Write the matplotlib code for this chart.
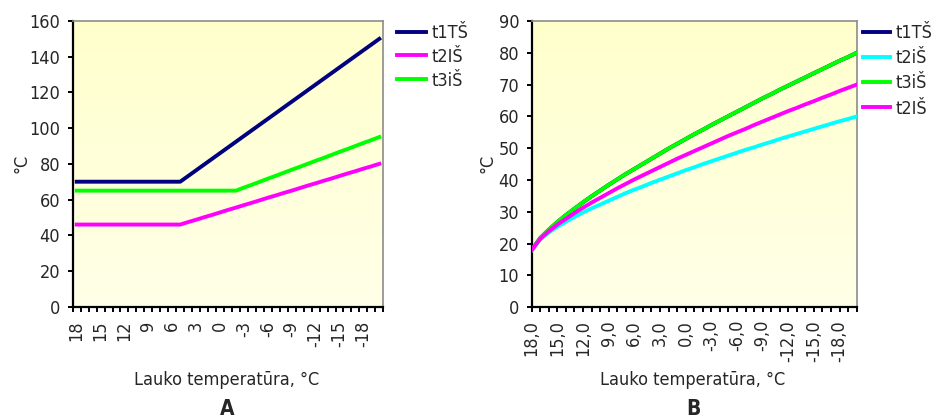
import numpy as np
import matplotlib
matplotlib.use("Agg")
import matplotlib.pyplot as plt
from matplotlib.colors import LinearSegmentedColormap

plt.rcParams['font.family'] = ['DejaVu Sans']
plt.rcParams['font.stretch'] = 'condensed'
plt.rcParams['text.color'] = '#262626'
plt.rcParams['xtick.color'] = '#000000'
plt.rcParams['ytick.color'] = '#000000'
plt.rcParams['xtick.labelcolor'] = '#262626'
plt.rcParams['ytick.labelcolor'] = '#262626'

# lauko temperatūra, °C (18 ... -20)
temp = list(range(18, -21, -1))

# A - su pastoviu tiekiamo vandens temperatūros lūžiu
a_t1TS = [70, 70, 70, 70, 70, 70, 70, 70, 70, 70, 70, 70, 70, 70,
          73.2, 76.4, 79.6, 82.8, 86.0, 89.2, 92.4, 95.6, 98.8, 102.0,
          105.2, 108.4, 111.6, 114.8, 118.0, 121.2, 124.4, 127.6, 130.8,
          134.0, 137.2, 140.4, 143.6, 146.8, 150.0]
a_t2IS = [46, 46, 46, 46, 46, 46, 46, 46, 46, 46, 46, 46, 46, 46,
          47.4, 48.7, 50.1, 51.4, 52.8, 54.2, 55.5, 56.9, 58.2, 59.6,
          61.0, 62.3, 63.7, 65.0, 66.4, 67.8, 69.1, 70.5, 71.8, 73.2,
          74.6, 75.9, 77.3, 78.6, 80.0]
a_t3iS = [65, 65, 65, 65, 65, 65, 65, 65, 65, 65, 65, 65, 65, 65,
          65, 65, 65, 65, 65, 65, 65,
          66.7, 68.3, 70.0, 71.7, 73.3, 75.0, 76.7, 78.3, 80.0, 81.7,
          83.3, 85.0, 86.7, 88.3, 90.0, 91.7, 93.3, 95.0]

# B - be lūžio
b_t3iS = [18.0, 21.8, 24.4, 26.8, 29.0, 31.0, 33.0, 34.9, 36.7, 38.5,
          40.2, 41.9, 43.5, 45.1, 46.7, 48.3, 49.9, 51.4, 52.9, 54.4,
          55.8, 57.3, 58.7, 60.1, 61.5, 62.9, 64.3, 65.7, 67.0, 68.4,
          69.7, 71.0, 72.3, 73.6, 74.9, 76.2, 77.5, 78.7, 80.0]
b_t1TS = list(b_t3iS)
b_t2IS = [18.0, 21.5, 23.9, 26.0, 27.8, 29.6, 31.3, 32.9, 34.4, 35.9,
          37.4, 38.8, 40.2, 41.5, 42.8, 44.1, 45.4, 46.7, 47.9, 49.1,
          50.3, 51.5, 52.7, 53.9, 55.0, 56.1, 57.3, 58.4, 59.5, 60.6,
          61.7, 62.7, 63.8, 64.8, 65.9, 66.9, 68.0, 69.0, 70.0]
b_t2iS = [18.0, 21.4, 23.5, 25.3, 26.9, 28.4, 29.8, 31.1, 32.3, 33.5,
          34.7, 35.9, 37.0, 38.0, 39.1, 40.1, 41.1, 42.1, 43.1, 44.0,
          45.0, 45.9, 46.8, 47.7, 48.6, 49.5, 50.3, 51.2, 52.0, 52.9,
          53.7, 54.5, 55.3, 56.1, 56.9, 57.7, 58.5, 59.2, 60.0]

W, H = 936, 419
fig = plt.figure(figsize=(W / 100, H / 100), dpi=100)

bg = LinearSegmentedColormap.from_list('bg', ['#ffffe8', '#ffffcc'])


def px(x0, y0, x1, y1):
    return [x0 / W, 1 - y1 / H, (x1 - x0) / W, (y1 - y0) / H]


def style_axes(ax, ymax, ystep):
    ax.imshow(np.linspace(0, 1, 256).reshape(-1, 1), cmap=bg, aspect='auto',
              origin='lower', extent=[0, 1, 0, 1], transform=ax.transAxes,
              zorder=0)
    ax.set_ylim(0, ymax)
    ax.set_yticks(np.arange(0, ymax + 1, ystep))
    for s in ['top', 'right']:
        ax.spines[s].set_color('#8c8c8c')
        ax.spines[s].set_linewidth(1.2)
    for s in ['left', 'bottom']:
        ax.spines[s].set_color('black')
        ax.spines[s].set_linewidth(1.6)
    ax.tick_params(axis='y', direction='out', length=3.5, width=1.4,
                   pad=5.5, labelsize=13)
    ax.tick_params(axis='x', which='both', direction='out', width=1.4)


n = len(temp)
idx = np.arange(n)

# --- A ---
ax1 = fig.add_axes(px(72.7, 21, 383.3, 306.7))
style_axes(ax1, 160, 20)
ax1.plot(idx, a_t1TS, color='#000080', lw=2.8, label='t1TŠ', zorder=3)
ax1.plot(idx, a_t2IS, color='#ff00ff', lw=2.8, label='t2IŠ', zorder=3)
ax1.plot(idx, a_t3iS, color='#00ff00', lw=2.8, label='t3iŠ', zorder=3)
ax1.set_xlim(-0.5, n - 0.5)
ax1.set_xticks(idx[::3])
ax1.set_xticklabels([str(t) for t in temp[::3]], rotation=90, va='top')
ax1.set_xticks(np.arange(-0.5, n, 1), minor=True)
ax1.tick_params(axis='x', which='major', length=0, pad=10, labelsize=13)
ax1.tick_params(axis='x', which='minor', length=3.5)
ax1.legend(loc='upper left', bbox_to_anchor=(397 / W, 1 - 24 / H),
           bbox_transform=fig.transFigure, frameon=False, fontsize=13,
           handlelength=1.6, handletextpad=0.3, labelspacing=0.32,
           borderpad=0, borderaxespad=0)

# --- B ---
ax2 = fig.add_axes(px(531.7, 21, 856.7, 307.3))
style_axes(ax2, 90, 10)
ax2.plot(idx, b_t1TS, color='#000080', lw=2.8, label='t1TŠ', zorder=3)
ax2.plot(idx, b_t2iS, color='#00ffff', lw=2.8, label='t2iŠ', zorder=3)
ax2.plot(idx, b_t3iS, color='#00ff00', lw=2.8, label='t3iŠ', zorder=4)
ax2.plot(idx, b_t2IS, color='#ff00ff', lw=2.8, label='t2IŠ', zorder=4)
ax2.set_xlim(0, n - 1)
ax2.set_xticks(idx[::3])
ax2.set_xticklabels([f"{t:.1f}".replace('.', ',') for t in temp[::3]],
                    rotation=90, va='top')
ax2.set_xticks(idx, minor=True)
ax2.tick_params(axis='x', which='both', length=3.5, pad=5.5, labelsize=13)
ax2.legend(loc='upper left', bbox_to_anchor=(863 / W, 1 - 24 / H),
           bbox_transform=fig.transFigure, frameon=False, fontsize=13,
           handlelength=1.5, handletextpad=0.3, labelspacing=0.4,
           borderpad=0, borderaxespad=0)

# ašių pavadinimai
for xc, yc in [(21.5, 163), (487.5, 163)]:
    fig.text(xc / W, 1 - yc / H, '°C', rotation=90, ha='center', va='center',
             fontsize=13)
for xc, letter in [(227, 'A'), (693, 'B')]:
    fig.text(xc / W, 1 - 380 / H, 'Lauko temperatūra, °C', ha='center',
             va='center', fontsize=13)
    fig.text(xc / W, 1 - 409 / H, letter, ha='center', va='center',
             fontsize=15, fontweight='bold')

fig.savefig('out.png', dpi=100)
